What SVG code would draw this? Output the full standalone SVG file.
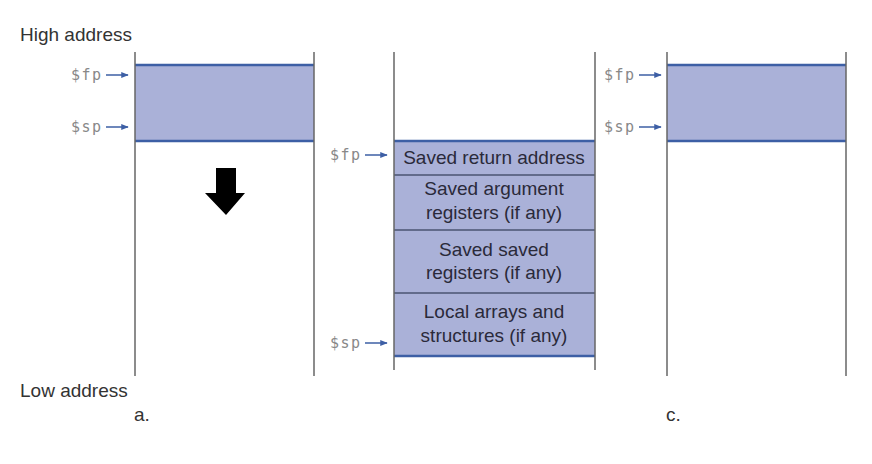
<svg xmlns="http://www.w3.org/2000/svg" width="872" height="464" viewBox="0 0 872 464">
<defs>
<style>
.lbl{font-family:"Liberation Sans",Arial,sans-serif;font-size:19px;fill:#333}
.reg{font-family:"DejaVu Sans Mono","Liberation Mono",monospace;font-size:15px;letter-spacing:1.5px;fill:#888}
.box{font-family:"Liberation Sans",Arial,sans-serif;font-size:19px;fill:#2a2a3a;text-anchor:middle}
.vline{stroke:#666;stroke-width:1.5}
.fill{fill:#aab1d8}
.edge{stroke:#3d5fa5;stroke-width:2.5}
.div{stroke:#4a5472;stroke-width:1.5}
.ptr{stroke:#3d5fa5;stroke-width:1.5;fill:none}
</style>
<marker id="ah" viewBox="0 0 10 10" refX="9" refY="5" markerWidth="5" markerHeight="5" orient="auto">
<path d="M0,1 L10,5 L0,9 z" fill="#3d5fa5"/>
</marker>
</defs>
<rect width="872" height="464" fill="#fff"/>
<text class="lbl" x="20" y="41">High address</text>
<text class="lbl" x="20" y="397">Low address</text>
<text class="lbl" x="134" y="421">a.</text>
<text class="lbl" x="666" y="421">c.</text>

<g id="stack-a">
<rect class="fill" x="135" y="65" width="179" height="76"/>
<line class="edge" x1="135" y1="65" x2="314" y2="65"/>
<line class="edge" x1="135" y1="141" x2="314" y2="141"/>
<line class="vline" x1="135" y1="52" x2="135" y2="376"/>
<line class="vline" x1="314" y1="52" x2="314" y2="376"/>
<text class="reg" x="71" y="80">$fp</text>
<text class="reg" x="71" y="132">$sp</text>
<path d="M226,215 L205,193 L216,193 L216,168 L236,168 L236,193 L245,193 Z" fill="#000"/>
</g>

<g id="stack-b">
<rect class="fill" x="394" y="141" width="201" height="215"/>
<line class="edge" x1="394" y1="141" x2="595" y2="141"/>
<line class="div" x1="394" y1="175" x2="595" y2="175"/>
<line class="div" x1="394" y1="230" x2="595" y2="230"/>
<line class="div" x1="394" y1="293" x2="595" y2="293"/>
<line class="edge" x1="394" y1="356" x2="595" y2="356"/>
<line class="vline" x1="394" y1="52" x2="394" y2="370"/>
<line class="vline" x1="595" y1="52" x2="595" y2="370"/>
<text class="reg" x="330" y="160">$fp</text>
<text class="reg" x="330" y="348">$sp</text>
<text class="box" x="494" y="164">Saved return address</text>
<text class="box" x="494" y="195">Saved argument</text>
<text class="box" x="494" y="219">registers (if any)</text>
<text class="box" x="494" y="256">Saved saved</text>
<text class="box" x="494" y="279">registers (if any)</text>
<text class="box" x="494" y="318">Local arrays and</text>
<text class="box" x="494" y="342">structures (if any)</text>
</g>

<g id="stack-c">
<rect class="fill" x="667" y="65" width="179" height="76"/>
<line class="edge" x1="667" y1="65" x2="846" y2="65"/>
<line class="edge" x1="667" y1="141" x2="846" y2="141"/>
<line class="vline" x1="667" y1="52" x2="667" y2="376"/>
<line class="vline" x1="846" y1="52" x2="846" y2="376"/>
<text class="reg" x="604" y="80">$fp</text>
<text class="reg" x="604" y="132">$sp</text>
</g>

<g id="connectors">
<line class="ptr" x1="106" y1="75" x2="128" y2="75" marker-end="url(#ah)"/>
<line class="ptr" x1="106" y1="127" x2="128" y2="127" marker-end="url(#ah)"/>
<line class="ptr" x1="365" y1="155" x2="387" y2="155" marker-end="url(#ah)"/>
<line class="ptr" x1="365" y1="343" x2="387" y2="343" marker-end="url(#ah)"/>
<line class="ptr" x1="639" y1="75" x2="661" y2="75" marker-end="url(#ah)"/>
<line class="ptr" x1="639" y1="127" x2="661" y2="127" marker-end="url(#ah)"/>
</g>
</svg>
